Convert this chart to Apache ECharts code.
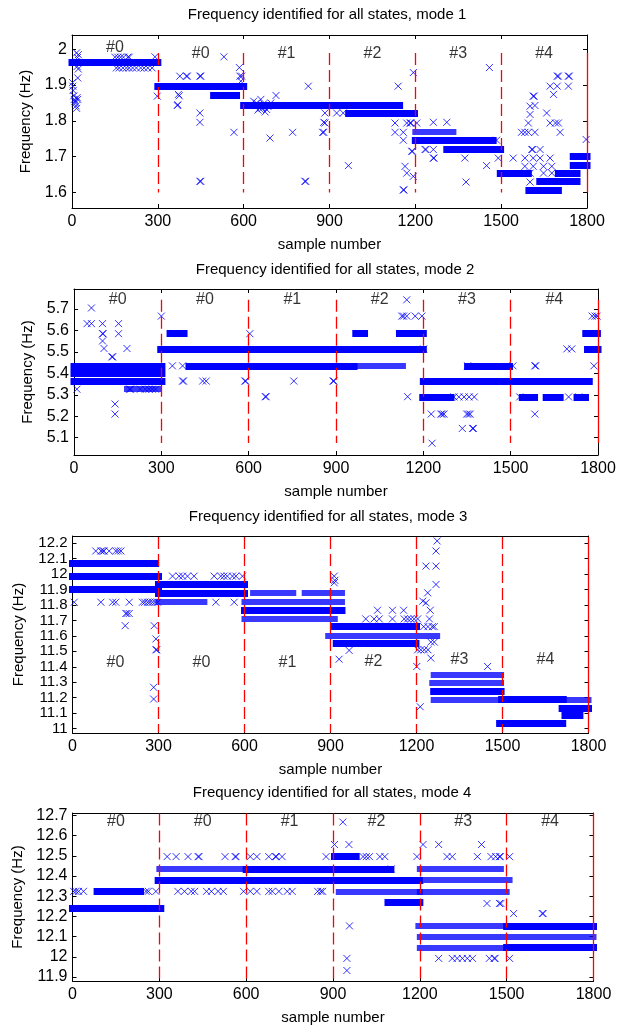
<!DOCTYPE html>
<html><head><meta charset="utf-8">
<script src="https://cdn.jsdelivr.net/npm/echarts@6/dist/echarts.min.js"></script>
<style>html,body{margin:0;padding:0;background:#fff}#c{width:626px;height:1029px}</style>
</head><body><div id="c"></div>
<script>
// ---------------- DATA ----------------
const boundaries = [300, 600, 900, 1200, 1500, 1800];
const segLabels = ['#0', '#0', '#1', '#2', '#3', '#4'];
const segCenters = [150, 450, 750, 1050, 1350, 1650];
const xTicks = [0, 300, 600, 900, 1200, 1500, 1800];

const titles = [
  'Frequency identified for all states, mode 1',
  'Frequency identified for all states, mode 2',
  'Frequency identified for all states, mode 3',
  'Frequency identified for all states, mode 4'
];

// y tick values per mode
const yTicks1 = [1.6, 1.7, 1.8, 1.9, 2];
const yTicks2 = [5.1, 5.2, 5.3, 5.4, 5.5, 5.6, 5.7];
const yTicks3 = [11, 11.1, 11.2, 11.3, 11.4, 11.5, 11.6, 11.7, 11.8, 11.9, 12, 12.1, 12.2];
const yTicks4 = [11.9, 12, 12.1, 12.2, 12.3, 12.4, 12.5, 12.6, 12.7];

// axis ranges per mode
const yRange1 = [1.5565, 2.04];
const yRange2 = [5.019, 5.7935];
const yRange3 = [10.971, 12.247];
const yRange4 = [11.88, 12.712];

// vertical extent of the red state boundaries per mode
const bound1 = [1.6, 1.99];
const bound2 = [5.075, 5.743];
const bound3 = [10.975, 12.24];
const bound4 = [11.885, 12.71];

// height of the state labels per mode (one per segment)
const segY1 = [2.005, 1.989, 1.989, 1.989, 1.989, 1.989];
const segY2 = [5.743, 5.743, 5.743, 5.743, 5.743, 5.743];
const segY3 = [11.425, 11.425, 11.425, 11.432, 11.445, 11.445];
const segY4 = [12.667, 12.667, 12.667, 12.667, 12.667, 12.667];

// dense runs of identical estimates: [startSample, endSample, frequency]
const bands1 = [
  [0, 300, 1.963], [300, 600, 1.897], [495, 575, 1.872], [600, 1145, 1.843], [967, 1197, 1.821],
  [1200, 1472, 1.747], [1310, 1498, 1.721], [1497, 1595, 1.653], [1597, 1700, 1.607],
  [1635, 1765, 1.630], [1700, 1765, 1.653], [1752, 1800, 1.700], [1752, 1800, 1.677]
];
const sparse1 = [
  [1200, 1333, 1.770]
];
const bands2 = [
  [0, 302, 5.435], [0, 302, 5.400], [0, 302, 5.365], [330, 378, 5.585], [298, 1200, 5.514],
  [395, 962, 5.435], [968, 998, 5.585], [1118, 1200, 5.585], [1200, 1770, 5.363],
  [1198, 1295, 5.290], [1352, 1496, 5.435], [1540, 1582, 5.290], [1622, 1670, 5.290],
  [1728, 1757, 5.290], [1764, 1800, 5.514], [1758, 1798, 5.587]
];
const sparse2 = [
  [182, 292, 5.326], [962, 1130, 5.435]
];
const bands3 = [
  [0, 290, 12.072], [0, 300, 11.985], [0, 300, 11.903], [300, 600, 11.933], [300, 600, 11.879],
  [600, 940, 11.766], [912, 1200, 11.660], [920, 1198, 11.550], [1260, 1495, 11.241],
  [1497, 1712, 11.188], [1490, 1710, 11.033], [1708, 1800, 11.134], [1718, 1770, 11.083]
];
const sparse3 = [
  [300, 460, 11.818], [600, 940, 11.818], [600, 915, 11.712], [630, 770, 11.882], [810, 940, 11.882],
  [892, 1272, 11.602], [1260, 1495, 11.348], [1255, 1495, 11.295], [1260, 1495, 11.188], [1730, 1800, 11.188]
];
const bands4 = [
  [0, 305, 12.241], [85, 150, 12.324], [165, 235, 12.324], [600, 1100, 12.435], [296, 1200, 12.380],
  [905, 980, 12.496], [1090, 1200, 12.269], [1500, 1800, 12.153], [1500, 1800, 12.045]
];
const sparse4 = [
  [300, 600, 12.435], [1200, 1480, 12.435], [1222, 1510, 12.380], [920, 1200, 12.324], [1200, 1500, 12.324],
  [1195, 1500, 12.153], [1200, 1800, 12.100], [1200, 1500, 12.045]
];

// individual estimates: [sample, frequency]
const points1 = [
  [2,1.907],[3,1.897],[4,1.885],[6,1.870],[8,1.860],[10,1.855],[12,1.850],[14,1.842],[16,1.835],[18,1.865],[20,1.860],
  [20,1.920],[22,1.945],[18,1.952],[15,1.965],[19,1.977],[16,1.990],[22,1.985],
  [150,1.978],[160,1.978],[170,1.978],[180,1.978],[195,1.978],[200,1.978],[290,1.979],
  [155,1.948],[165,1.948],[178,1.948],[190,1.948],[200,1.948],[212,1.948],[225,1.948],[240,1.948],[252,1.948],[265,1.948],[280,1.948],
  [298,1.869],[377,1.925],[400,1.925],[403,1.925],[447,1.925],[450,1.925],[372,1.874],[375,1.870],[368,1.843],[370,1.845],
  [447,1.822],[447,1.796],[447,1.631],[450,1.631],[531,1.979],[566,1.768],[585,1.949],[587,1.925],[593,1.925],[590,1.911],
  [635,1.855],[645,1.850],[650,1.830],[655,1.835],[665,1.835],[675,1.825],[685,1.840],[695,1.850],[660,1.860],[670,1.848],[680,1.832],
  [713,1.871],[692,1.752],[771,1.768],[826,1.897],[814,1.631],[817,1.631],[884,1.822],[884,1.794],[880,1.796],[876,1.768],[880,1.768],
  [925,1.822],[948,1.822],[966,1.675],[1140,1.897],[1129,1.794],[1129,1.768],[1158,1.768],[1158,1.746],[1170,1.794],[1181,1.794],
  [1185,1.794],[1164,1.673],[1170,1.654],[1193,1.645],[1158,1.607],[1160,1.607],[1187,1.715],[1190,1.715],[1193,1.935],[1205,1.794],
  [1234,1.720],[1237,1.720],[1263,1.720],[1263,1.696],[1265,1.696],[1263,1.796],[1310,1.796],[1373,1.696],[1377,1.629],[1449,1.675],
  [1459,1.949],[1484,1.746],[1490,1.696],
  [1542,1.696],[1583,1.696],[1607,1.720],[1610,1.720],[1636,1.720],[1612,1.696],[1636,1.696],[1671,1.696],[1583,1.673],[1601,1.654],
  [1601,1.629],[1612,1.673],[1648,1.673],[1677,1.673],[1648,1.654],[1677,1.654],[1571,1.768],[1583,1.768],[1595,1.768],[1618,1.768],
  [1595,1.794],[1601,1.818],[1601,1.841],[1612,1.869],[1615,1.869],[1618,1.843],[1659,1.822],[1671,1.794],[1700,1.794],[1690,1.794],
  [1706,1.768],[1671,1.897],[1696,1.897],[1683,1.874],[1696,1.925],[1700,1.925],[1735,1.925],[1738,1.925],[1735,1.897],[1797,1.748]
];
const points2 = [
  [60,5.705],[45,5.632],[60,5.632],[98,5.632],[153,5.632],[98,5.585],[100,5.585],[153,5.585],[98,5.551],[103,5.516],[182,5.516],
  [130,5.477],[133,5.477],[141,5.257],[141,5.210],[10,5.326],[191,5.326],[194,5.326],[228,5.326],[245,5.326],[258,5.326],[269,5.326],
  [280,5.326],[300,5.667],
  [338,5.435],[373,5.435],[373,5.364],[376,5.364],[442,5.364],[454,5.364],[587,5.364],[590,5.364],[604,5.585],[657,5.291],[660,5.291],
  [755,5.364],[890,5.364],[893,5.364],
  [1143,5.743],[1146,5.291],[1126,5.667],[1132,5.667],[1143,5.667],[1172,5.667],[1195,5.667],[1201,5.514],
  [1227,5.210],[1260,5.210],[1265,5.210],[1271,5.210],[1349,5.210],[1355,5.210],[1361,5.210],[1334,5.143],[1369,5.143],[1372,5.143],
  [1230,5.074],[1305,5.290],[1322,5.290],[1340,5.290],[1357,5.290],[1375,5.290],[1352,5.435],[1508,5.435],[1583,5.435],[1586,5.435],
  [1583,5.210],[1693,5.514],[1710,5.514],[1786,5.435],[1531,5.290],[1699,5.290],[1734,5.290],[1780,5.667],[1790,5.667],[1797,5.667]
];
const points3 = [
  [81,12.15],[99,12.15],[105,12.15],[110,12.15],[128,12.15],[151,12.15],[160,12.15],[169,12.15],
  [6,11.818],[99,11.818],[140,11.818],[151,11.818],[198,11.818],[244,11.818],[252,11.818],[262,11.818],[270,11.818],[279,11.818],
  [288,11.818],[297,11.818],
  [186,11.745],[190,11.745],[198,11.745],[184,11.666],[285,11.666],[291,11.58],[291,11.51],[294,11.51],[283,11.267],[283,11.191],
  [349,11.987],[372,11.987],[384,11.987],[401,11.987],[424,11.987],[494,11.987],[517,11.987],[528,11.987],[540,11.987],[558,11.987],
  [570,11.987],[593,11.987],[500,11.818],[564,11.818],
  [913,11.987],[913,11.944],[915,11.96],[930,11.449],[965,11.506],
  [1023,11.71],[1052,11.71],[1070,11.71],[1116,11.71],[1157,11.71],[1169,11.71],[1180,11.71],[1192,11.71],[1204,11.71],
  [1064,11.766],[1116,11.766],[1155,11.766],
  [1201,11.402],[1213,11.141],[1204,11.51],[1215,11.51],[1227,11.51],[1240,11.51],[1250,11.456],
  [1233,12.052],[1268,12.052],[1268,12.15],[1272,12.215],[1268,11.933],[1239,11.879],[1222,11.825],[1233,11.814],[1248,11.766],
  [1245,11.71],[1225,11.66],[1240,11.66],[1255,11.66],[1262,11.66],[1250,11.56],[1262,11.56],[1448,11.402]
];
const points4 = [
  [4,12.324],[12,12.324],[21,12.324],[38,12.324],[254,12.324],[262,12.324],[288,12.324],
  [934,12.667],[905,12.556],[955,12.556],
  [327,12.496],[358,12.496],[399,12.496],[434,12.496],[437,12.496],[527,12.496],[562,12.496],[565,12.496],[614,12.496],[637,12.496],
  [678,12.496],[701,12.496],[704,12.496],[724,12.496],[876,12.496],[1004,12.496],[1015,12.496],[1026,12.496],[1062,12.496],[1079,12.496],
  [1190,12.496],[1294,12.496],[1312,12.496],[1399,12.496],[1446,12.496],[1462,12.496],[1475,12.496],[1478,12.496],[1510,12.496],
  [1211,12.556],[1265,12.556],[1413,12.556],
  [364,12.324],[387,12.324],[410,12.324],[422,12.324],[463,12.324],[480,12.324],[503,12.324],[521,12.324],[591,12.324],[614,12.324],
  [637,12.324],[678,12.324],[690,12.324],[713,12.324],[742,12.324],[759,12.324],[847,12.324],[858,12.324],[864,12.324],
  [957,12.153],[948,11.992],[948,11.932],[1101,12.435],
  [1432,12.264],[1475,12.264],[1480,12.264],[1524,12.214],[1623,12.214],[1626,12.214],
  [1265,11.992],[1312,11.992],[1329,11.992],[1347,11.992],[1364,11.992],[1382,11.992],[1440,11.992],[1457,11.992],[1460,11.992],[1510,11.992]
];

// ---------------- CHART ----------------
const modes = [
  {bands: bands1, sparse: sparse1, points: points1, ticks: yTicks1, range: yRange1, bound: bound1, segY: segY1},
  {bands: bands2, sparse: sparse2, points: points2, ticks: yTicks2, range: yRange2, bound: bound2, segY: segY2},
  {bands: bands3, sparse: sparse3, points: points3, ticks: yTicks3, range: yRange3, bound: bound3, segY: segY3},
  {bands: bands4, sparse: sparse4, points: points4, ticks: yTicks4, range: yRange4, bound: bound4, segY: segY4}
];
const grids = [
  {left: 72, top: 35, width: 515, height: 173},
  {left: 74, top: 289, width: 524, height: 166},
  {left: 72.5, top: 536, width: 516, height: 197},
  {left: 72.5, top: 813, width: 521, height: 168}
];
const titleY = [15, 270, 517, 793];
const titleX = [327, 335, 328, 332];
const yNameGap = [36, 38, 46, 46];
const yLabelSize = [16, 16, 15, 16];

const FONT = "'Liberation Sans', Arial, sans-serif";
const BLUE = '#0000ff';
const XSYM = 'path://M0,0L10,10M10,0L0,10';

const xAxes = [], yAxes = [], series = [], graphics = [];
const axisLine = {show: true, onZero: false, lineStyle: {color: '#000', width: 1}};
const fmt = v => String(+(+v).toFixed(2));

modes.forEach((m, i) => {
  xAxes.push({
    gridIndex: i, type: 'value', min: 0, max: 1800, interval: 300, position: 'bottom',
    axisLine, axisTick: {show: true, inside: true, length: 4, customValues: xTicks, lineStyle: {color: '#000'}},
    axisLabel: {show: true, customValues: xTicks, formatter: v => String(v), margin: 6, color: '#000', fontSize: 16, fontFamily: FONT,
      showMinLabel: true, showMaxLabel: true, hideOverlap: false},
    splitLine: {show: false},
    name: 'sample number', nameLocation: 'middle', nameGap: 29,
    nameTextStyle: {color: '#000', fontSize: 15, fontFamily: FONT}
  });
  xAxes.push({
    gridIndex: i, type: 'value', min: 0, max: 1800, interval: 300, position: 'top',
    axisLine, axisTick: {show: true, inside: true, length: 4, customValues: xTicks, lineStyle: {color: '#000'}},
    axisLabel: {show: false}, splitLine: {show: false}
  });
  yAxes.push({
    gridIndex: i, type: 'value', min: m.range[0], max: m.range[1], position: 'left',
    axisLine, axisTick: {show: true, inside: true, length: 4, customValues: m.ticks, lineStyle: {color: '#000'}},
    axisLabel: {show: true, customValues: m.ticks, formatter: fmt, margin: 5, color: '#000', fontSize: yLabelSize[i], fontFamily: FONT,
      showMinLabel: true, showMaxLabel: true, hideOverlap: false},
    splitLine: {show: false},
    name: 'Frequency (Hz)', nameLocation: 'middle', nameRotate: 90, nameGap: yNameGap[i],
    nameTextStyle: {color: '#000', fontSize: 15, fontFamily: FONT}
  });
  yAxes.push({
    gridIndex: i, type: 'value', min: m.range[0], max: m.range[1], position: 'right',
    axisLine, axisTick: {show: true, inside: true, length: 4, customValues: m.ticks, lineStyle: {color: '#000'}},
    axisLabel: {show: false}, splitLine: {show: false}
  });
  const ax = {xAxisIndex: 2 * i, yAxisIndex: 2 * i};
  series.push(Object.assign({
    type: 'lines', coordinateSystem: 'cartesian2d', z: 2, silent: true,
    lineStyle: {color: BLUE, width: 7, opacity: 1, cap: 'square'},
    data: m.bands.map(b => ({coords: [[b[0], b[2]], [b[1], b[2]]]}))
  }, ax));
  series.push(Object.assign({
    type: 'lines', coordinateSystem: 'cartesian2d', z: 2, silent: true,
    lineStyle: {color: BLUE, width: 6, opacity: 0.78, cap: 'square'},
    data: m.sparse.map(b => ({coords: [[b[0], b[2]], [b[1], b[2]]]}))
  }, ax));
  series.push(Object.assign({
    type: 'scatter', z: 3, silent: true, symbol: XSYM, symbolSize: 7,
    itemStyle: {color: 'rgba(0,0,0,0)', borderColor: BLUE, borderWidth: 1},
    data: m.points
  }, ax));
  series.push(Object.assign({
    type: 'lines', coordinateSystem: 'cartesian2d', z: 4, silent: true,
    lineStyle: {color: '#ff0000', width: 1.3, type: [12, 5], opacity: 1},
    data: boundaries.slice(0, 5).map(b => ({coords: [[b, m.bound[1]], [b, m.bound[0]]]}))
  }, ax));
  series.push(Object.assign({
    type: 'lines', coordinateSystem: 'cartesian2d', z: 4, silent: true,
    lineStyle: {color: '#ff0000', width: 1.3, type: 'solid', opacity: 1},
    data: boundaries.slice(5).map(b => ({coords: [[b, m.bound[1]], [b, m.bound[0]]]}))
  }, ax));
  series.push(Object.assign({
    type: 'scatter', z: 5, silent: true, symbol: 'circle', symbolSize: 1,
    itemStyle: {color: 'rgba(0,0,0,0)'},
    label: {show: true, position: 'inside', formatter: '{b}', color: '#000', fontSize: 16, fontFamily: FONT},
    data: segLabels.map((s, k) => ({name: s, value: [segCenters[k], m.segY[k]]}))
  }, ax));
  graphics.push({
    type: 'text', x: titleX[i], y: titleY[i],
    style: {text: titles[i], fill: '#000', font: '15px ' + FONT, textAlign: 'center', textVerticalAlign: 'middle'}
  });
});

const chart = echarts.init(document.getElementById('c'), null, {renderer: 'canvas'});
chart.setOption({
  animation: false,
  backgroundColor: '#fff',
  grid: grids,
  xAxis: xAxes,
  yAxis: yAxes,
  series: series,
  graphic: graphics
});
</script>
</body></html>
